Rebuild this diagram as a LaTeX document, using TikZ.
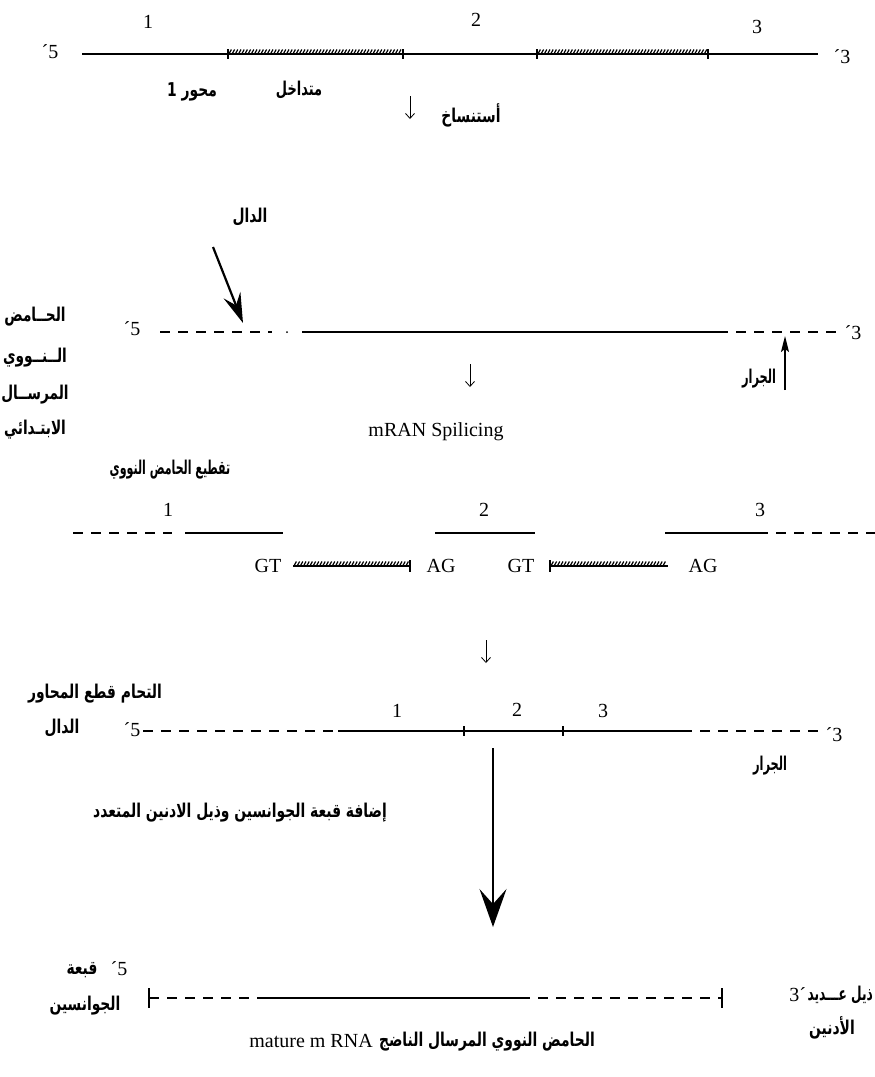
\documentclass[tikz,border=0pt]{standalone}
\usepackage{graphicx}
\usepackage{fontspec}
\setmainfont{Liberation Serif}
\newfontfamily\arabicfont[Script=Arabic]{DejaVu Sans}
\newfontfamily\latinfont{Liberation Serif}
\TeXXeTstate=1
\usetikzlibrary{arrows.meta,decorations.markings}

% right-to-left Arabic text, narrowed to a book-like width
\newcommand\artext[2][0.73]{\scalebox{#1}[1]{\beginR #2\endR}}

\tikzset{
  arlabel/.style={font=\arabicfont\bfseries\fontsize{19}{22}\selectfont, inner sep=0pt},
  numlabel/.style={font=\fontsize{20}{22}\selectfont, inner sep=0pt},
  strand/.style={line width=1.6pt},
  flank/.style={line width=1.6pt, dash pattern=on 10pt off 8pt},
  intronline/.style={line width=1.5pt, postaction={decorate},
    decoration={markings, mark=between positions 2pt and -2pt step 3.2pt with
      {\draw[line width=1.2pt] (-1.4pt,-0.5pt) -- (1.4pt,4.5pt);}}},
  tickline/.style={line width=1.4pt},
  smallarrow/.style={line width=0.8pt, -{Straight Barb[length=5pt,width=9pt]}},
  bigarrow/.style={line width=1.6pt, -{Stealth[length=38pt,width=27pt,inset=15pt]}},
  donorarrow/.style={line width=2.2pt, -{Stealth[length=30pt,width=18pt,inset=11pt]}},
  tailarrow/.style={line width=1.4pt, -{Stealth[length=16pt,width=8pt,inset=3pt]}},
}

\begin{document}
\begin{tikzpicture}[x=1pt,y=-1pt]
\useasboundingbox (0,0) rectangle (875,1077);

% ---------- gene with exons and introns ----------
\node[numlabel] (g1) at (148,22) {1};
\node[numlabel] (g2) at (476,20) {2};
\node[numlabel] (g3) at (757,27) {3};
\node[numlabel] (g5p) at (50,52) {´5};
\node[numlabel] (g3p) at (842,57) {´3};
\coordinate (a0) at (82,54);
\coordinate (a1) at (228,54);
\coordinate (a2) at (403,54);
\coordinate (a3) at (537,54);
\coordinate (a4) at (708,54);
\coordinate (a5) at (818,54);
\draw[strand] (a0) -- (a1);
\draw[intronline] (a1) -- (a2);
\draw[strand] (a2) -- (a3);
\draw[intronline] (a3) -- (a4);
\draw[strand] (a4) -- (a5);
\foreach \c in {a1,a2,a3,a4}
  \draw[tickline] ([yshift=5pt]\c) -- ([yshift=-5pt]\c);
\node[arlabel] (exon1) at (192,92) {\artext{محور 1}};
\node[arlabel] (intron) at (299,90) {\artext[0.68]{متداخل}};
\coordinate (t1s) at (410,96);
\coordinate (t1e) at (410,119);
\draw[smallarrow] (t1s) -- (t1e);
\node[arlabel] (transcr) at (471,115) {\artext{أستنساخ}};

% ---------- primary transcript ----------
\node[arlabel] (donor) at (250,217) {\artext{الدال}};
\coordinate (d1) at (213,247);
\coordinate (d2) at (243,323);
\draw[donorarrow] (d1) -- (d2);
\node[arlabel] (lc1) at (35,317) {\artext[0.72]{الحــامض}};
\node[arlabel] (lc2) at (35,358) {\artext[0.72]{الــنــووي}};
\node[arlabel] (lc3) at (35,395) {\artext[0.72]{المرســال}};
\node[arlabel] (lc4) at (35,430) {\artext[0.72]{الابتـدائي}};
\node[numlabel] (p5b) at (132,329) {´5};
\coordinate (b0) at (160,332);
\coordinate (b1) at (272,332);
\coordinate (b2) at (302,332);
\coordinate (b3) at (718,332);
\coordinate (b4) at (838,332);
\draw[flank] (b0) -- (b1);
\fill (287,332) circle (1pt);
\draw[strand] (b2) -- (b3);
\draw[flank] (b3) -- (b4);
\node[numlabel] (p3b) at (853,333) {´3};
\coordinate (t2s) at (470,364);
\coordinate (t2e) at (470,387);
\draw[smallarrow] (t2s) -- (t2e);
\node[arlabel] (acceptor) at (759,379) {\artext[0.6]{الجرار}};
\coordinate (u1) at (785,390);
\coordinate (u2) at (785,336);
\draw[tailarrow] (u1) -- (u2);
\node[numlabel] (splice) at (436,432) {mRAN Spilicing};
\node[arlabel] (cut) at (170,470) {\artext[0.58]{تقطيع الحامض النووي}};

% ---------- cut pieces ----------
\node[numlabel] (c1) at (168,510) {1};
\node[numlabel] (c2) at (484,510) {2};
\node[numlabel] (c3) at (760,510) {3};
\coordinate (s0) at (73,533);
\coordinate (s1) at (172,533);
\coordinate (s2) at (185,533);
\coordinate (s3) at (283,533);
\coordinate (s4) at (435,533);
\coordinate (s5) at (535,533);
\coordinate (s6) at (665,533);
\coordinate (s7) at (762,533);
\coordinate (s8) at (875,533);
\draw[flank] (s0) -- (s1);
\draw[strand] (s2) -- (s3);
\draw[strand] (s4) -- (s5);
\draw[strand] (s6) -- (s7);
\draw[flank, dash phase=4pt] (s7) -- (s8);

\node[numlabel] (gt1) at (268,566) {GT};
\node[numlabel] (ag1) at (441,566) {AG};
\node[numlabel] (gt2) at (521,566) {GT};
\node[numlabel] (ag2) at (703,566) {AG};
\coordinate (i1a) at (293,566);
\coordinate (i1b) at (410,566);
\coordinate (i2a) at (550,566);
\coordinate (i2b) at (668,566);
\draw[intronline] (i1a) -- (i1b);
\draw[intronline] (i2a) -- (i2b);
\draw[tickline] ([yshift=6pt]i1b) -- ([yshift=-6pt]i1b);
\draw[tickline] ([yshift=6pt]i2a) -- ([yshift=-6pt]i2a);

\coordinate (t3s) at (486,640);
\coordinate (t3e) at (486,663);
\draw[smallarrow] (t3s) -- (t3e);

% ---------- joined exons ----------
\node[arlabel] (join1) at (95,694) {\artext{التحام قطع المحاور}};
\node[arlabel] (join2) at (62,728) {\artext{الدال}};
\node[numlabel] (p5c) at (132,730) {´5};
\node[numlabel] (j1) at (397,711) {1};
\node[numlabel] (j2) at (517,710) {2};
\node[numlabel] (j3) at (603,711) {3};
\coordinate (m0) at (143,731);
\coordinate (m1) at (338,731);
\coordinate (m2) at (464,731);
\coordinate (m3) at (563,731);
\coordinate (m4) at (682,731);
\coordinate (m5) at (818,731);
\draw[flank] (m0) -- (m1);
\draw[strand] (m1) -- (m4);
\draw[flank] (m4) -- (m5);
\foreach \c in {m2,m3}
  \draw[tickline] ([yshift=5pt]\c) -- ([yshift=-5pt]\c);
\node[numlabel] (p3c) at (834,735) {´3};
\node[arlabel] (acceptor2) at (770,766) {\artext[0.6]{الجرار}};
\coordinate (v1) at (493,748);
\coordinate (v2) at (493,927);
\draw[bigarrow] (v1) -- (v2);
\node[arlabel] (capadd) at (240,813) {\artext{إضافة قبعة الجوانسين وذيل الادنين المتعدد}};

% ---------- mature mRNA ----------
\node[arlabel] (cap1) at (82,970) {\artext{قبعة}};
\node[numlabel] (p5d) at (119,969) {´5};
\node[arlabel] (cap2) at (85,1006) {\artext{الجوانسين}};
\coordinate (f0) at (149,998);
\coordinate (f1) at (262,998);
\coordinate (f2) at (520,998);
\coordinate (f3) at (722,998);
\draw[flank] (f0) -- (f1);
\draw[strand] (f1) -- (f2);
\draw[flank] (f2) -- (f3);
\foreach \c in {f0,f3}
  \draw[tickline] ([yshift=10pt]\c) -- ([yshift=-10pt]\c);
\node[arlabel, anchor=east] (tail1) at (873,995) {\artext[0.64]{ذيل عـــديد}};
\node[numlabel, anchor=east] (p3d) at ([xshift=-1pt]tail1.west) {3´};
\node[arlabel] (tail2) at (832,1028) {\artext{الأدنين}};
\node[arlabel] (mature) at (487,1042) {\artext{الحامض النووي المرسال الناضج}};
\node[numlabel, anchor=east] (matlatin) at ([xshift=-6pt,yshift=1pt]mature.west) {mature m RNA};
\end{tikzpicture}
\end{document}
